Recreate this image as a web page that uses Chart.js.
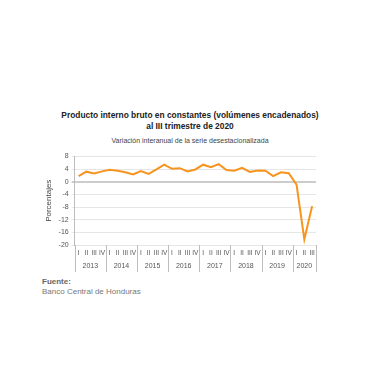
<!DOCTYPE html>
<html>
<head>
<meta charset="utf-8">
<script src="https://cdn.jsdelivr.net/npm/chart.js@4/dist/chart.umd.min.js"></script>
<style>
  html, body { margin: 0; padding: 0; background: #fff; }
  body { width: 380px; height: 380px; position: relative; overflow: hidden; font-family: "Liberation Sans", Arial, sans-serif; }
  .t { position: absolute; left: 0; width: 380px; text-align: center; white-space: nowrap; }
  #t1 { top: 110px; font-size: 8.4px; line-height: 11px; font-weight: bold; color: #222; }
  #t2 { top: 135.5px; font-size: 7px; line-height: 9px; color: #444; }
  #wrap { position: absolute; left: 0; top: 145px; width: 380px; height: 131px; }
  #src { position: absolute; left: 42px; top: 277px; font-size: 8px; line-height: 10px; color: #777; }
  #src b { color: #666; }
</style>
</head>
<body>
<div id="t1" class="t">Producto interno bruto en constantes (volúmenes encadenados)<br>al III trimestre de 2020</div>
<div id="t2" class="t">Variación interanual de la serie desestacionalizada</div>
<div id="wrap"><canvas id="c"></canvas></div>
<div id="src"><b>Fuente:</b><br>Banco Central de Honduras</div>
<script>
// Variación interanual (%) por trimestre
const years    = ["2013", "2014", "2015", "2016", "2017", "2018", "2019", "2020"];
const quarters = ["I", "II", "III", "IV"];
const values = [
  1.8, 3.2, 2.6, 3.3,
  3.8, 3.5, 3.0, 2.3,
  3.4, 2.5, 3.9, 5.4,
  4.1, 4.3, 3.3, 3.9,
  5.4, 4.6, 5.6, 3.7,
  3.5, 4.4, 3.1, 3.6,
  3.5, 1.8, 3.0, 2.7,
  -0.9, -18.2, -7.7
];
const yTicks = [8, 4, 0, -4, -8, -12, -16, -20];

// one label per quarter
const labels = values.map((v, i) => quarters[i % 4]);

// quarter labels, years and separators under the plot
const yearAxis = {
  id: "yearAxis",
  afterDraw(chart) {
    const ctx = chart.ctx, x = chart.scales.x, area = chart.chartArea;
    const half = (x.getPixelForValue(1) - x.getPixelForValue(0)) / 2;
    ctx.save();
    ctx.strokeStyle = "#bdbdbd";
    ctx.lineWidth = 1;
    ctx.fillStyle = "#555";
    ctx.textAlign = "center";
    ctx.textBaseline = "middle";
    ctx.font = "6.5px 'Liberation Sans', Arial, sans-serif";
    labels.forEach((q, i) => {
      ctx.fillText(q, x.getPixelForValue(i), area.bottom + 8.5);
    });
    ctx.font = "7px 'Liberation Sans', Arial, sans-serif";
    years.forEach((y, k) => {
      const first = k * 4;
      const last = Math.min(first + 3, values.length - 1);
      const left = x.getPixelForValue(first) - half;
      const right = x.getPixelForValue(last) + half;
      [left, right].forEach(px => {
        ctx.beginPath();
        ctx.moveTo(Math.round(px) + 0.5, area.bottom);
        ctx.lineTo(Math.round(px) + 0.5, area.bottom + 27);
        ctx.stroke();
      });
      ctx.fillText(y, (left + right) / 2, area.bottom + 21);
    });
    ctx.restore();
  }
};

new Chart(document.getElementById("c").getContext("2d"), {
  type: "line",
  data: {
    labels,
    datasets: [{
      data: values,
      borderColor: "#f7941d",
      borderWidth: 2,
      pointRadius: 0,
      tension: 0,
      fill: false
    }]
  },
  options: {
    responsive: true,
    maintainAspectRatio: false,
    animation: false,
    layout: { padding: { left: 42, right: 64, top: 11.5, bottom: 0 } },
    plugins: {
      legend: { display: false },
      tooltip: { enabled: false }
    },
    scales: {
      x: {
        offset: true,
        grid: { display: false },
        border: { display: false },
        ticks: { display: false },
        afterFit: s => { s.height = 31; }
      },
      y: {
        min: -20,
        max: 8,
        afterBuildTicks: s => { s.ticks = yTicks.map(v => ({ value: v })); },
        grid: {
          color: c => c.tick && c.tick.value === 0 ? "#cccccc" : "#e6e6e6",
          lineWidth: c => c.tick && c.tick.value === 0 ? 2 : 1,
          tickLength: 3
        },
        border: { color: "#bdbdbd" },
        ticks: {
          color: "#555",
          padding: 3,
          font: { family: "'Liberation Sans', Arial, sans-serif", size: 7 }
        },
        title: {
          display: true,
          text: "Porcentajes",
          color: "#444",
          padding: 2,
          font: { family: "'Liberation Sans', Arial, sans-serif", size: 8 }
        }
      }
    }
  },
  plugins: [yearAxis]
});
</script>
</body>
</html>
